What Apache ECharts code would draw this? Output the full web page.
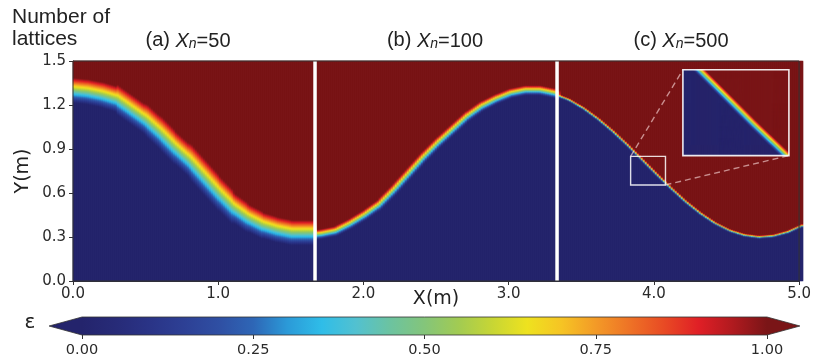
<!DOCTYPE html>
<html><head><meta charset="utf-8">
<script src="https://cdn.jsdelivr.net/npm/echarts@6/dist/echarts.min.js"></script>
<style>html,body{margin:0;padding:0;background:#fff}#c{width:814px;height:362px}</style>
</head><body><div id="c"></div>
<script>
// ---------------- data ----------------
const xTicks = [0, 1, 2, 3, 4, 5];
const yTicks = [0, 0.3, 0.6, 0.9, 1.2, 1.5];
const cbTicks = [0, 0.25, 0.5, 0.75, 1];
const panelEdges = [0, 5 / 3, 10 / 3, 5];
const panelLabels = ['(a)', '(b)', '(c)'];
const latticeCounts = [50, 100, 500];
// interface thickness (m) of each panel
const bandThickness = [0.17, 0.065, 0.02];
// interface height (centre of the band, m) read along X for each panel
const ifaceA_x = [0.0, 0.1, 0.2, 0.3, 0.4, 0.5, 0.6, 0.7, 0.8, 0.9, 1.0, 1.1, 1.2, 1.3, 1.4, 1.5, 1.6, 1.7];
const ifaceA_y = [1.30, 1.29, 1.27, 1.24, 1.17, 1.10, 1.01, 0.91, 0.82, 0.71, 0.60, 0.50, 0.43, 0.38, 0.35, 0.33, 0.33, 0.33];
const ifaceB_x = [1.6, 1.7, 1.8, 1.9, 2.0, 2.1, 2.2, 2.3, 2.4, 2.5, 2.6, 2.7, 2.8, 2.9, 3.0, 3.1, 3.2, 3.3, 3.4];
const ifaceB_y = [0.31, 0.32, 0.34, 0.39, 0.45, 0.52, 0.62, 0.73, 0.84, 0.94, 1.03, 1.12, 1.19, 1.24, 1.28, 1.30, 1.30, 1.28, 1.24];
const ifaceC_x = [3.3, 3.4, 3.5, 3.6, 3.7, 3.8, 3.9, 4.0, 4.1, 4.2, 4.3, 4.4, 4.5, 4.6, 4.7, 4.8, 4.9, 5.0];
const ifaceC_y = [1.275, 1.235, 1.177, 1.104, 1.020, 0.927, 0.827, 0.727, 0.631, 0.540, 0.461, 0.394, 0.344, 0.313, 0.300, 0.308, 0.335, 0.380];
// zoom box (source, m) and inset placement (in main-axis coordinates, m)
const zoomSrc = [3.84, 0.655, 4.08, 0.85];
const insetDst = [4.20, 0.855, 4.93, 1.44];
// colour map for epsilon 0..1
const epsColors = ['#24246c', '#272b78', '#2a3487', '#2d4095', '#2f4fa3', '#2e66b6', '#2b9ad8', '#2fbde8',
  '#52c1d0', '#6cc3a0', '#84c57a', '#a2cb52', '#c8d634', '#eee21f', '#f6c424', '#f39a27', '#ee7226',
  '#e84a24', '#e01f26', '#b01a1f', '#7a1517'];
const cbExtend = 0.048;

// ---------------- field built from the interface readings ----------------
const panels = [
  { xs: ifaceA_x, ys: ifaceA_y, w: bandThickness[0] },
  { xs: ifaceB_x, ys: ifaceB_y, w: bandThickness[1] },
  { xs: ifaceC_x, ys: ifaceC_y, w: bandThickness[2] }
];
function ifaceAt(p, X) {
  const xs = p.xs, ys = p.ys;
  let k = 0;
  while (k < xs.length - 2 && X > xs[k + 1]) k++;
  const t = (X - xs[k]) / (xs[k + 1] - xs[k]);
  const slope = (ys[k + 1] - ys[k]) / (xs[k + 1] - xs[k]);
  return { y: ys[k] + t * (ys[k + 1] - ys[k]), s: slope };
}
function eps(X, Y) {
  const pi = X < panelEdges[1] ? 0 : (X < panelEdges[2] ? 1 : 2);
  const p = panels[pi];
  const f = ifaceAt(p, X);
  const d = (Y - f.y) / Math.sqrt(1 + f.s * f.s);
  return Math.max(0, Math.min(1, 0.5 + d / p.w));
}
// cell value = mean over a few sample points inside the cell
function cellValue(xa, xb, ya, yb, sx, sy) {
  let s = 0;
  for (let a = 0; a < sx; a++) {
    const X = xa + (a + 0.5) * (xb - xa) / sx;
    for (let b = 0; b < sy; b++) s += eps(X, ya + (b + 0.5) * (yb - ya) / sy);
  }
  return s / (sx * sy);
}
function buildField(x0, y0, x1, y1, nx, ny, sx, sy) {
  const out = [];
  const dx = (x1 - x0) / nx, dy = (y1 - y0) / ny;
  for (let i = 0; i < nx; i++)
    for (let j = 0; j < ny; j++)
      out.push([i, j, cellValue(x0 + i * dx, x0 + (i + 1) * dx, y0 + j * dy, y0 + (j + 1) * dy, sx, sy)]);
  return out;
}
const xMin = xTicks[0], xMax = xTicks[xTicks.length - 1];
const yMin = yTicks[0], yMax = yTicks[yTicks.length - 1];
const NX = 365, NY = 220, NXi = 108, NYi = 86;
const heat = buildField(xMin, yMin, xMax, yMax, NX, NY, 4, 3);
const heatInset = buildField(zoomSrc[0], zoomSrc[1], zoomSrc[2], zoomSrc[3], NXi, NYi, 2, 2);
const idx = n => Array.from({ length: n }, (_, i) => i);

// ---------------- chart ----------------
const chart = echarts.init(document.getElementById('c'), null, { renderer: 'canvas', width: 814, height: 362 });
const TXT = '#2a2a2a';
const TICKFONT = 'DejaVu Sans';
const mainGrid = { left: 73, right: 11, top: 61, bottom: 81 };

const rectItem = (api, style) => {
  const a = api.coord([api.value(0), api.value(1)]);
  const b = api.coord([api.value(2), api.value(3)]);
  return { type: 'rect', silent: true,
    shape: { x: Math.min(a[0], b[0]), y: Math.min(a[1], b[1]), width: Math.abs(b[0] - a[0]), height: Math.abs(b[1] - a[1]) },
    style: style };
};

const option = {
  animation: false,
  backgroundColor: '#fff',
  grid: [
    Object.assign({}, mainGrid),
    Object.assign({ show: true, borderColor: '#333', borderWidth: 1, backgroundColor: 'transparent', z: 10 }, mainGrid),
    { left: 686, top: 70, width: 106, height: 86 },
    { left: 82, right: 47, top: 317, height: 18 }
  ],
  xAxis: [
    { gridIndex: 0, type: 'category', data: idx(NX), show: false },
    { gridIndex: 1, type: 'value', min: xMin, max: xMax, interval: xTicks[1] - xTicks[0],
      axisLine: { show: true, lineStyle: { color: '#333', width: 1 } },
      axisTick: { show: true, length: 4, lineStyle: { color: '#333' } },
      splitLine: { show: false },
      axisLabel: { fontFamily: TICKFONT, fontSize: 15, color: TXT, margin: 6, formatter: v => v.toFixed(1) },
      name: 'X(m)', nameLocation: 'middle', nameGap: 9, nameMoveOverlap: false,
      nameTextStyle: { fontFamily: TICKFONT, fontSize: 19, color: '#222' } },
    { gridIndex: 2, type: 'category', data: idx(NXi), show: false },
    { gridIndex: 3, type: 'value', min: cbTicks[0], max: cbTicks[cbTicks.length - 1], interval: cbTicks[1] - cbTicks[0],
      axisLine: { show: false },
      axisTick: { show: true, length: 4, lineStyle: { color: '#333' } },
      splitLine: { show: false },
      axisLabel: { fontFamily: TICKFONT, fontSize: 14.5, color: TXT, margin: 8, formatter: v => v.toFixed(2) } }
  ],
  yAxis: [
    { gridIndex: 0, type: 'category', data: idx(NY), show: false },
    { gridIndex: 1, type: 'value', min: yMin, max: yMax, interval: yTicks[1] - yTicks[0],
      axisLine: { show: true, lineStyle: { color: '#333', width: 1 } },
      axisTick: { show: true, length: 4, lineStyle: { color: '#333' } },
      splitLine: { show: false },
      axisLabel: { fontFamily: TICKFONT, fontSize: 15, color: TXT, margin: 7, formatter: v => v.toFixed(1) },
      name: 'Y(m)', nameLocation: 'middle', nameGap: 40, nameMoveOverlap: false,
      nameTextStyle: { fontFamily: TICKFONT, fontSize: 19, color: '#222' } },
    { gridIndex: 2, type: 'category', data: idx(NYi), show: false },
    { gridIndex: 3, type: 'value', min: 0, max: 1, show: false }
  ],
  visualMap: {
    type: 'continuous', show: false, min: 0, max: 1, dimension: 2, seriesIndex: [0, 4],
    inRange: { color: epsColors }
  },
  series: [
    { type: 'heatmap', xAxisIndex: 0, yAxisIndex: 0, data: heat, progressive: 0, silent: true, z: 1,
      emphasis: { disabled: true } },
    { type: 'custom', name: 'separators', xAxisIndex: 1, yAxisIndex: 1, z: 3, silent: true,
      encode: { x: 0, y: [1, 2] },
      data: panelEdges.slice(1, -1).map(x => [x, yMin, yMax]),
      renderItem: (params, api) => {
        const a = api.coord([api.value(0), api.value(1)]);
        const b = api.coord([api.value(0), api.value(2)]);
        return { type: 'line', silent: true, shape: { x1: a[0], y1: a[1], x2: b[0], y2: b[1] },
          style: { stroke: '#ffffff', lineWidth: 3.5 } };
      } },
    { type: 'custom', name: 'zoomBox', xAxisIndex: 1, yAxisIndex: 1, z: 4, silent: true,
      encode: { x: [0, 2], y: [1, 3] },
      data: [zoomSrc],
      renderItem: (params, api) => rectItem(api, { fill: 'none', stroke: 'rgba(255,255,255,0.85)', lineWidth: 1.4 }) },
    { type: 'custom', name: 'connectors', xAxisIndex: 1, yAxisIndex: 1, z: 4, silent: true,
      encode: { x: [0, 2], y: [1, 3] },
      data: [[zoomSrc[0], zoomSrc[3], insetDst[0], insetDst[3]], [zoomSrc[2], zoomSrc[1], insetDst[2], insetDst[1]]],
      renderItem: (params, api) => {
        const a = api.coord([api.value(0), api.value(1)]);
        const b = api.coord([api.value(2), api.value(3)]);
        return { type: 'line', silent: true, shape: { x1: a[0], y1: a[1], x2: b[0], y2: b[1] },
          style: { stroke: 'rgba(255,225,225,0.6)', lineWidth: 1.4, lineDash: [6, 4] } };
      } },
    { type: 'heatmap', xAxisIndex: 2, yAxisIndex: 2, data: heatInset, progressive: 0, silent: true, z: 6,
      emphasis: { disabled: true } },
    { type: 'custom', name: 'insetFrame', xAxisIndex: 1, yAxisIndex: 1, z: 7, silent: true,
      encode: { x: [0, 2], y: [1, 3] },
      data: [insetDst],
      renderItem: (params, api) => rectItem(api, { fill: 'none', stroke: 'rgba(255,255,255,0.9)', lineWidth: 1.6 }) },
    { type: 'custom', name: 'colorbar', xAxisIndex: 3, yAxisIndex: 3, z: 3, silent: true,
      encode: { x: [0, 2], y: [1, 3] },
      data: [[0, 0, 1, 1]],
      renderItem: (params, api) => {
        const x0 = api.value(0), y0 = api.value(1), x1 = api.value(2), y1 = api.value(3);
        const ym = (y0 + y1) / 2;
        const c = (x, y) => api.coord([x, y]);
        const grad = new echarts.graphic.LinearGradient(0, 0, 1, 0,
          epsColors.map((col, i) => ({ offset: i / (epsColors.length - 1), color: col })));
        const p00 = c(x0, y0), p11 = c(x1, y1);
        return { type: 'group', children: [
          { type: 'rect', shape: { x: p00[0], y: p11[1], width: p11[0] - p00[0], height: p00[1] - p11[1] }, style: { fill: grad } },
          { type: 'polygon', shape: { points: [c(x0, y0), c(x0, y1), c(x0 - cbExtend, ym)] }, style: { fill: epsColors[0] } },
          { type: 'polygon', shape: { points: [c(x1, y0), c(x1, y1), c(x1 + cbExtend, ym)] }, style: { fill: epsColors[epsColors.length - 1] } },
          { type: 'polygon', shape: { points: [c(x0 - cbExtend, ym), c(x0, y1), c(x1, y1), c(x1 + cbExtend, ym), c(x1, y0), c(x0, y0)] },
            style: { fill: 'none', stroke: '#333', lineWidth: 0.8 } }
        ] };
      } }
  ],
  graphic: [
    { type: 'text', x: 12, y: 17, style: { text: 'Number of', fontFamily: 'Liberation Sans', fontSize: 21, fill: '#222', verticalAlign: 'middle' } },
    { type: 'text', x: 12, y: 39, style: { text: 'lattices', fontFamily: 'Liberation Sans', fontSize: 21, fill: '#222', verticalAlign: 'middle' } },
    { type: 'text', x: 30, y: 323, style: { text: 'ε', fontFamily: 'DejaVu Sans', fontSize: 20, fill: '#222', align: 'center', verticalAlign: 'middle' } }
  ].concat(panelLabels.map((lab, k) => ({
    type: 'text', x: [188, 435, 681][k], y: 40,
    style: {
      text: lab + ' {it|X}{sub|n}{n|=' + latticeCounts[k] + '}',
      fontFamily: 'Liberation Sans', fontSize: 20, fill: '#222', align: 'center', verticalAlign: 'middle',
      rich: {
        it: { fontFamily: 'Liberation Sans', fontSize: 20, fontStyle: 'italic', fill: '#222', verticalAlign: 'bottom', lineHeight: 22 },
        sub: { fontFamily: 'Liberation Sans', fontSize: 14, fontStyle: 'italic', fill: '#222', verticalAlign: 'bottom', lineHeight: 14 },
        n: { fontFamily: 'Liberation Sans', fontSize: 20, fill: '#222', verticalAlign: 'bottom', lineHeight: 22 }
      }
    }
  })))
};
chart.setOption(option);
// place the inset grid at its data-space location on the main axes
const pA = chart.convertToPixel({ gridIndex: 1 }, [insetDst[0], insetDst[3]]);
const pB = chart.convertToPixel({ gridIndex: 1 }, [insetDst[2], insetDst[1]]);
chart.setOption({ grid: [{}, {}, { left: pA[0], top: pA[1], width: pB[0] - pA[0], height: pB[1] - pA[1] }, {}] });
</script></body></html>
